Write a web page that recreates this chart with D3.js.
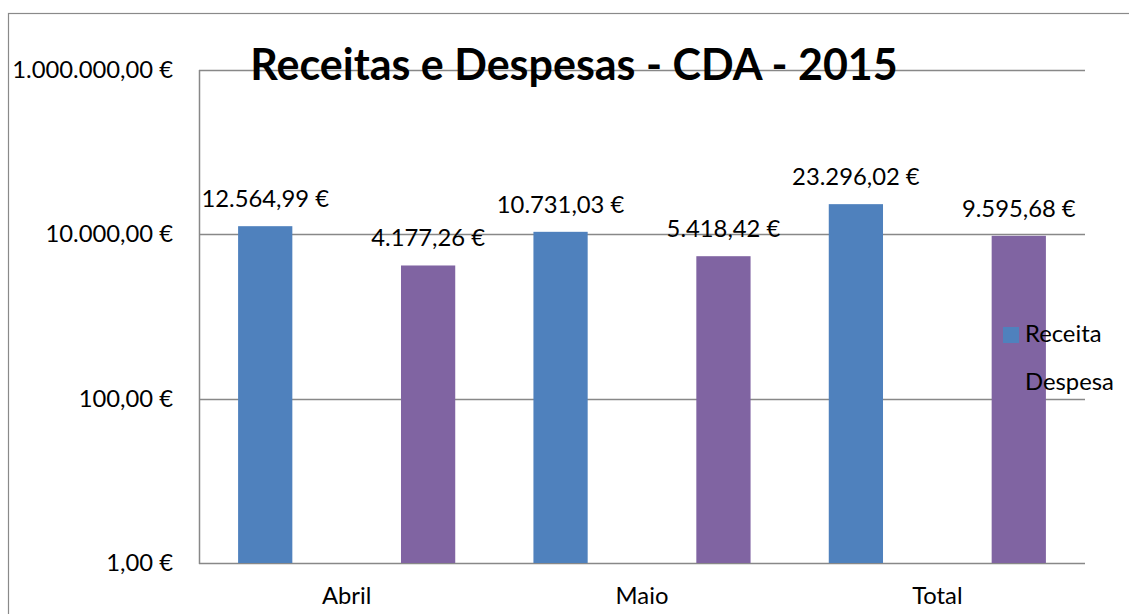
<!DOCTYPE html>
<html>
<head>
<meta charset="utf-8">
<script src="https://cdn.jsdelivr.net/npm/d3@7"></script>
<style>
  html, body { margin: 0; padding: 0; background: #fff; }
  svg { display: block; }
  text { font-family: Lato, "Open Sans", sans-serif; fill: #000; }
</style>
</head>
<body>
<svg id="chart" width="1129" height="614"></svg>
<script>
const categories = ["Abril", "Maio", "Total"];
const seriesNames = ["Receita", "Despesa"];
const receita = [12564.99, 10731.03, 23296.02];
const despesa = [4177.26, 5418.42, 9595.68];
const yTicks = [1, 100, 10000, 1000000];
const title = "Receitas e Despesas - CDA - 2015";

const colors = { Receita: "#4F81BD", Despesa: "#8064A2" };

const locale = d3.formatLocale({ decimal: ",", thousands: ".", grouping: [3], currency: ["", " €"] });
const fmt = locale.format("$,.2f");

const svg = d3.select("#chart");
const plot = { left: 199, right: 1085, top: 70, bottom: 563 };
const fs = "23.8px";

// outer border
svg.append("rect").attr("x", 8.5).attr("y", 13.5).attr("width", 1200).attr("height", 700)
  .attr("fill", "none").attr("stroke", "#8a8a8a").attr("stroke-width", 1.2);

const y = d3.scaleLog().domain([1, 1e6]).range([plot.bottom, plot.top]);
const x = d3.scaleBand().domain(categories).range([plot.left, plot.right]);
const xs = d3.scaleBand().domain(seriesNames).range([0, x.bandwidth()])
  .paddingInner(0.667).paddingOuter(0.24);

// gridlines
svg.append("g").selectAll("line").data(yTicks).join("line")
  .attr("x1", plot.left).attr("x2", plot.right)
  .attr("y1", d => Math.round(y(d)) + 0.5).attr("y2", d => Math.round(y(d)) + 0.5)
  .attr("stroke", "#888").attr("stroke-width", 1.5);

// y axis line
svg.append("line").attr("x1", plot.left + 0.5).attr("x2", plot.left + 0.5)
  .attr("y1", plot.top).attr("y2", plot.bottom + 1)
  .attr("stroke", "#888").attr("stroke-width", 1.5);

// y tick labels
svg.append("g").selectAll("text").data(yTicks).join("text")
  .attr("x", 173).attr("y", d => y(d) + 8)
  .attr("text-anchor", "end").style("font-size", fs)
  .text(d => fmt(d));

// bars
const data = [];
categories.forEach((c, i) => {
  data.push({ cat: c, s: "Receita", v: receita[i] });
  data.push({ cat: c, s: "Despesa", v: despesa[i] });
});

svg.append("g").selectAll("rect").data(data).join("rect")
  .attr("x", d => x(d.cat) + xs(d.s))
  .attr("width", xs.bandwidth())
  .attr("y", d => y(d.v))
  .attr("height", d => y(1) - y(d.v))
  .attr("fill", d => colors[d.s]);

// data labels
svg.append("g").selectAll("text").data(data).join("text")
  .attr("x", d => x(d.cat) + xs(d.s) + xs.bandwidth() / 2)
  .attr("y", d => y(d.v) - 19)
  .attr("text-anchor", "middle").style("font-size", fs)
  .text(d => fmt(d.v));

// x labels
svg.append("g").selectAll("text").data(categories).join("text")
  .attr("x", d => x(d) + x.bandwidth() / 2)
  .attr("y", 604)
  .attr("text-anchor", "middle").style("font-size", fs)
  .text(d => d);

// legend
const lg = svg.append("g");
seriesNames.forEach((s, i) => {
  lg.append("rect").attr("x", 1003).attr("y", 327 + i * 48).attr("width", 16).attr("height", 16)
    .attr("fill", colors[s]);
  lg.append("text").attr("x", 1025).attr("y", 342 + i * 48)
    .style("font-size", fs).text(s);
});

// title
const t = svg.append("text").attr("x", 574).attr("y", 80)
  .attr("text-anchor", "middle").style("font-size", "40px").style("font-weight", "bold")
  .text(title);
const len = t.node().getComputedTextLength();
t.style("font-size", (40 * 648 / len).toFixed(1) + "px");
</script>
</body>
</html>
